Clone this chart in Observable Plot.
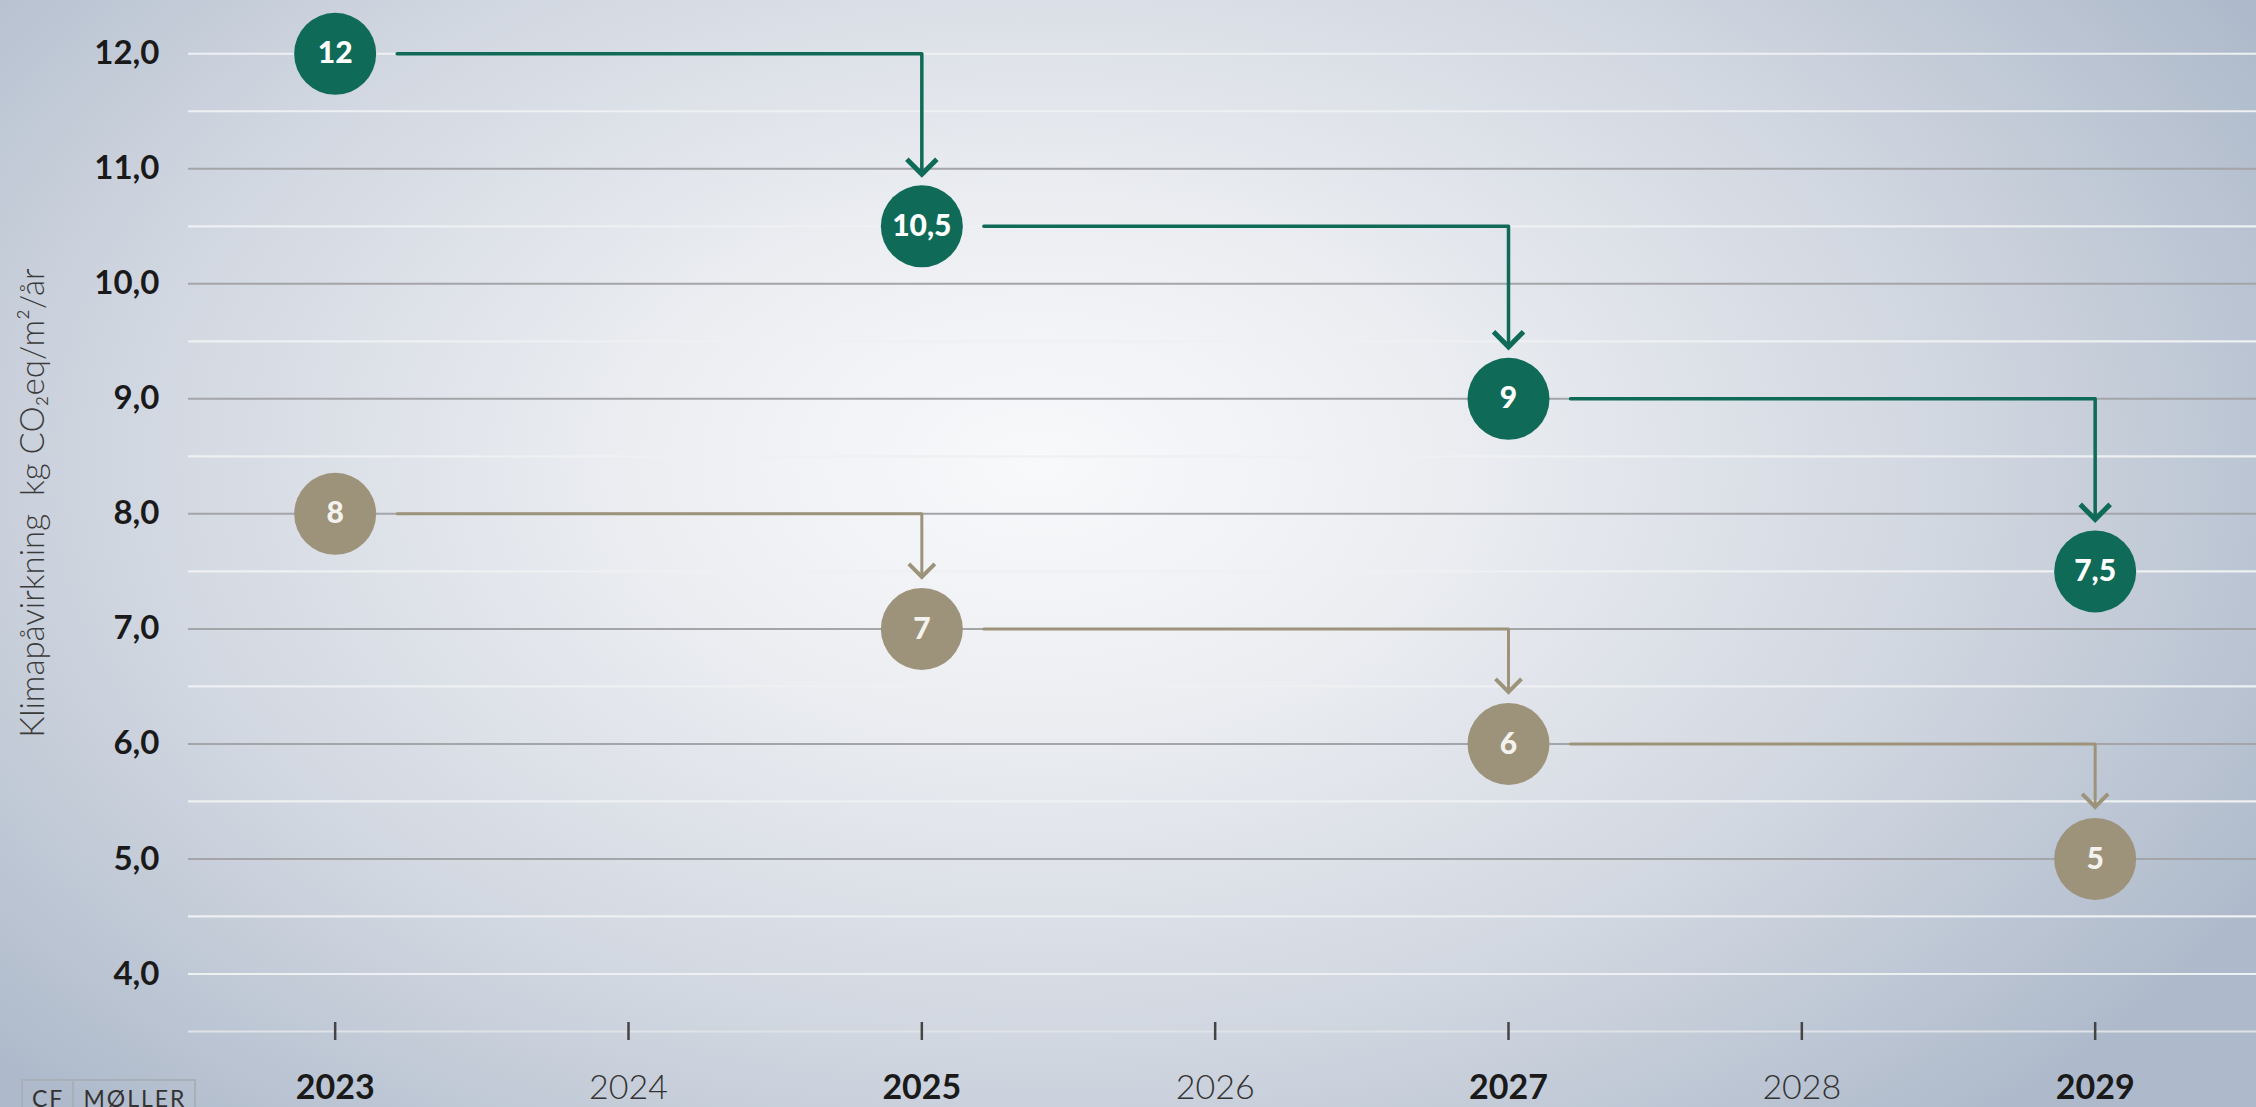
<!DOCTYPE html>
<html>
<head>
<meta charset="utf-8">
<script src="https://cdn.jsdelivr.net/npm/d3@7"></script>
<script src="https://cdn.jsdelivr.net/npm/@observablehq/plot@0.6"></script>
<style>
  html, body { margin: 0; padding: 0; }
  body {
    width: 2256px; height: 1107px; overflow: hidden; position: relative;
    background: radial-gradient(ellipse 62% 80% at 46% 42%, #f8f9fb 0%, #eceef2 28%, #cfd5df 68%, #aebacb 100%);
    font-family: Lato, "Open Sans", sans-serif;
  }
  #chart { position: absolute; left: 0; top: 0; }
  #chart svg { background: transparent !important; }
  .logo {
    position: absolute; left: 21px; top: 1079px; height: 40px;
    border: 2px solid #a9afb8; display: flex; align-items: flex-start;
    font-family: Lato, sans-serif; font-size: 23px; line-height: 1; color: #333; letter-spacing: 2px;
  }
  .logo span { padding: 6px 8px 0 9px; }
  .logo span + span { border-left: 2px solid #a9afb8; }
</style>
</head>
<body>
<div id="chart"></div>
<div class="logo"><span>CF</span><span>MØLLER</span></div>
<script>
// ---- data ----
const years = [2023, 2025, 2027, 2029];
const greenValues = [12, 10.5, 9, 7.5];
const tanValues = [8, 7, 6, 5];
const yTicks = [4, 5, 6, 7, 8, 9, 10, 11, 12];
const gridValues = [4, 4.5, 5, 5.5, 6, 6.5, 7, 7.5, 8, 8.5, 9, 9.5, 10, 10.5, 11, 11.5, 12];
const xTicks = [2023, 2024, 2025, 2026, 2027, 2028, 2029];
const boldYears = [2023, 2025, 2027, 2029];
const yTitle = "Klimapåvirkning  kg CO\u2082eq/m\u00B2/år";

// ---- layout ----
const W = 2256, H = 1107;
const mL = 188, mR = 0, mT = 0, mB = 76;
const xDomain = [2022.5, 2029.55];
const yDomain = [3.5, 12.463];
const pxPerYear = (W - mL - mR) / (xDomain[1] - xDomain[0]);
const pxPerUnit = (H - mT - mB) / (yDomain[1] - yDomain[0]);

const GREEN = "#0f6a57";
const TAN = "#9d937b";
const R = 41;
const startGapPx = 62;
const tipGapPx = 52;
const tickHalfPx = 9;

function stepPaths(values, series) {
  const pts = [];
  for (let i = 0; i < values.length - 1; i++) {
    const k = series + i;
    pts.push({x: years[i] + startGapPx / pxPerYear, y: values[i], k});
    pts.push({x: years[i + 1], y: values[i], k});
    pts.push({x: years[i + 1], y: values[i + 1] + tipGapPx / pxPerUnit, k});
  }
  return pts;
}
function tips(values) {
  return values.slice(1).map((v, i) => ({x: years[i + 1], y: v + tipGapPx / pxPerUnit}));
}
const chevron = {
  draw(ctx, size) {
    const r = Math.sqrt(size / Math.PI);
    ctx.moveTo(-r, -r);
    ctx.lineTo(0, 0);
    ctx.lineTo(r, -r);
  }
};
const fmt = v => String(v).replace(".", ",");
const green = greenValues.map((v, i) => ({x: years[i], y: v}));
const tan = tanValues.map((v, i) => ({x: years[i], y: v}));
const isDark = v => Number.isInteger(v) && v > 4 && v < 12;

const plot = Plot.plot({
  width: W, height: H,
  marginLeft: mL, marginRight: mR, marginTop: mT, marginBottom: mB,
  style: {fontFamily: "Lato, 'Open Sans', sans-serif", background: "transparent", overflow: "visible"},
  x: {domain: xDomain, axis: null},
  y: {domain: yDomain, axis: null},
  marks: [
    // grid
    Plot.ruleY(gridValues.filter(v => !isDark(v)), {stroke: "#eef0f2", strokeWidth: 2.2}),
    Plot.ruleY(gridValues.filter(isDark), {stroke: "#a3a5a8", strokeWidth: 2}),
    // x axis line + ticks
    Plot.ruleY([yDomain[0]], {stroke: "#dfe2e6", strokeWidth: 2}),
    Plot.ruleX(xTicks, {y1: yDomain[0] - tickHalfPx / pxPerUnit, y2: yDomain[0] + tickHalfPx / pxPerUnit, stroke: "#444", strokeWidth: 2.5}),
    // x tick labels
    Plot.text(xTicks.filter(d => boldYears.includes(d)), {x: d => d, y: yDomain[0], dy: 57, text: d => String(d), fontSize: 34, fontWeight: 700, fill: "#1a1a1a"}),
    Plot.text(xTicks.filter(d => !boldYears.includes(d)), {x: d => d, y: yDomain[0], dy: 57, text: d => String(d), fontSize: 34, fontWeight: 300, fill: "#333"}),
    // y axis
    Plot.axisY({ticks: yTicks, label: null, tickSize: 0, tickPadding: 29, tickFormat: d => d.toFixed(1).replace(".", ","), fontSize: 33, fontWeight: 700, fill: "#1a1a1a"}),
    // y title
    Plot.text([yTitle], {frameAnchor: "left", textAnchor: "middle", rotate: -90, dx: -155, dy: -13, fontSize: 33, fontWeight: 300, fill: "#3a3a3a"}),
    // step connectors
    Plot.line(stepPaths(tanValues, "t"), {x: "x", y: "y", z: "k", stroke: TAN, strokeWidth: 3}),
    Plot.dot(tips(tanValues), {x: "x", y: "y", symbol: chevron, r: 13, fill: "none", stroke: TAN, strokeWidth: 4, strokeLinejoin: "miter"}),
    Plot.line(stepPaths(greenValues, "g"), {x: "x", y: "y", z: "k", stroke: GREEN, strokeWidth: 3.5}),
    Plot.dot(tips(greenValues), {x: "x", y: "y", symbol: chevron, r: 15, fill: "none", stroke: GREEN, strokeWidth: 5, strokeLinejoin: "miter"}),
    // circles
    Plot.dot(tan, {x: "x", y: "y", r: R, fill: TAN}),
    Plot.text(tan, {x: "x", y: "y", text: d => fmt(d.y), fill: "#f4f2ee", fontSize: 30, fontWeight: 900}),
    Plot.dot(green, {x: "x", y: "y", r: R, fill: GREEN}),
    Plot.text(green, {x: "x", y: "y", text: d => fmt(d.y), fill: "#ffffff", fontSize: 30, fontWeight: 900})
  ]
});
document.getElementById("chart").appendChild(plot);
</script>
</body>
</html>
